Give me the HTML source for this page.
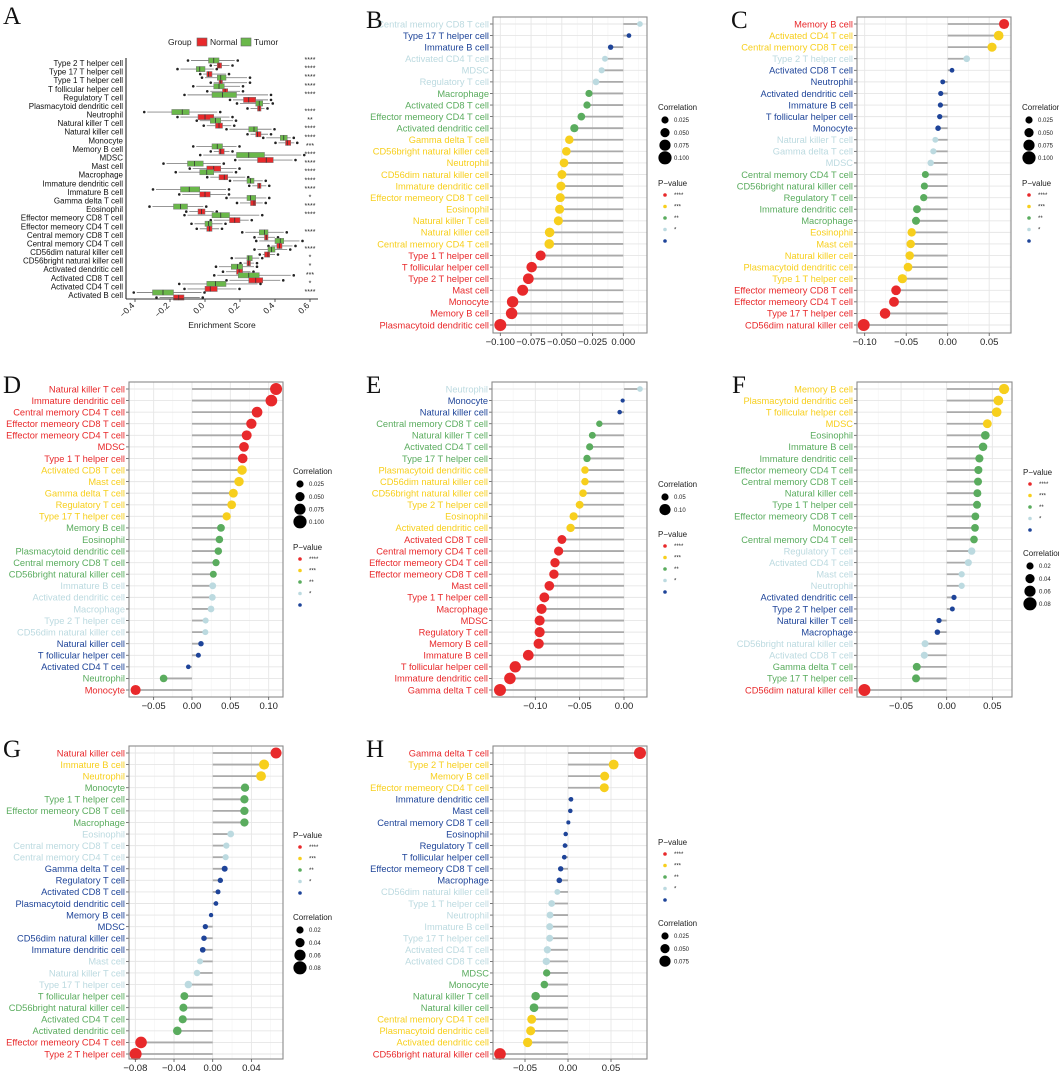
<!DOCTYPE html>
<html><head><meta charset="utf-8"><style>
body{margin:0;background:#fff}
svg{display:block;font-family:"Liberation Sans",Arial,sans-serif}
</style></head><body>
<svg id="fig" width="1059" height="1073" viewBox="0 0 1059 1073" xmlns="http://www.w3.org/2000/svg"></svg>
<script>
// ---------- Panel A data ----------
const aCells=["Type 2 T helper cell","Type 17 T helper cell","Type 1 T helper cell","T follicular helper cell","Regulatory T cell","Plasmacytoid dendritic cell","Neutrophil","Natural killer T cell","Natural killer cell","Monocyte","Memory B cell","MDSC","Mast cell","Macrophage","Immature dendritic cell","Immature  B cell","Gamma delta T cell","Eosinophil","Effector memeory CD8 T cell","Effector memeory CD4 T cell","Central memory CD8 T cell","Central memory CD4 T cell","CD56dim natural killer cell","CD56bright natural killer cell","Activated dendritic cell","Activated CD8 T cell","Activated CD4 T cell","Activated B cell"];
const aTumor=[[-.08,.02,.05,.08,.17],[-.14,-.05,-.03,0,.05],[0,.07,.09,.12,.24],[-.05,.05,.08,.11,.2],[-.1,.04,.1,.18,.36],[.2,.29,.31,.33,.37],[-.33,-.19,-.13,-.09,.07],[-.03,.03,.06,.09,.16],[.14,.25,.28,.3,.38],[.35,.43,.45,.47,.49],[-.05,.04,.07,.1,.18],[-.01,.18,.25,.34,.55],[-.22,-.1,-.06,-.01,.09],[-.15,-.03,.01,.05,.16],[.16,.24,.26,.28,.33],[-.28,-.14,-.09,-.03,.12],[.14,.24,.26,.29,.35],[-.3,-.18,-.14,-.1,-.01],[-.1,.04,.09,.14,.31],[-.06,0,.02,.04,.1],[.23,.31,.34,.36,.45],[.31,.4,.43,.45,.54],[.3,.36,.38,.4,.47],[.17,.24,.25,.27,.31],[.08,.15,.185,.215,.28],[.07,.19,.25,.31,.49],[-.13,.01,.06,.12,.3],[-.39,-.3,-.24,-.18,-.02]];
const aNormal=[[.05,.07,.08,.095,.14],[-.01,.01,.02,.04,.12],[.05,.08,.09,.1,.24],[.03,.1,.115,.13,.2],[.16,.22,.25,.29,.36],[.26,.3,.31,.32,.34],[-.14,-.04,0,.05,.14],[.01,.06,.08,.1,.15],[.26,.29,.3,.32,.36],[.42,.46,.47,.49,.51],[.05,.08,.09,.11,.14],[.19,.3,.35,.39,.5],[-.07,.01,.05,.09,.18],[.03,.08,.11,.13,.23],[.27,.3,.31,.32,.35],[-.13,-.03,0,.03,.12],[.2,.26,.28,.29,.33],[-.09,-.04,-.02,0,.05],[.05,.14,.17,.2,.25],[-.03,.01,.025,.04,.08],[.3,.34,.35,.36,.4],[.38,.41,.425,.44,.5],[.33,.34,.36,.37,.4],[.22,.24,.25,.26,.28],[.12,.18,.195,.215,.26],[.14,.25,.29,.33,.43],[-.1,0,.03,.07,.18],[-.26,-.18,-.15,-.12,-.03]];
const aStars=["****","****","****","****","****","","****","**","****","****","***","****","****","****","****","****","*","****","****","","****","","****","*","*","***","*","****"];
const aTicks=[-0.4,-0.2,0.0,0.2,0.4,0.6];
const aTickLabels=["−0.4","−0.2","0.0","0.2","0.4","0.6"];

// ---------- Lollipop data ----------
const bNames=["Central memory CD8 T cell","Type 17 T helper cell","Immature  B cell","Activated CD4 T cell","MDSC","Regulatory T cell","Macrophage","Activated CD8 T cell","Effector memeory CD4 T cell","Activated dendritic cell","Gamma delta T cell","CD56bright natural killer cell","Neutrophil","CD56dim natural killer cell","Immature dendritic cell","Effector memeory CD8 T cell","Eosinophil","Natural killer T cell","Natural killer cell","Central memory CD4 T cell","Type 1 T helper cell","T follicular helper cell","Type 2 T helper cell","Mast cell","Monocyte","Memory B cell","Plasmacytoid dendritic cell"];
const bVals=[0.0135,0.0046,-0.0103,-0.0149,-0.0176,-0.0222,-0.0279,-0.0295,-0.0341,-0.0398,-0.0439,-0.0463,-0.0482,-0.0499,-0.0507,-0.0512,-0.0518,-0.0528,-0.0599,-0.0602,-0.0672,-0.0745,-0.0772,-0.0818,-0.0900,-0.0908,-0.1];
const bSig=[1,0,0,1,1,1,2,2,2,2,3,3,3,3,3,3,3,3,3,3,4,4,4,4,4,4,4];
const bTicks=[-0.1,-0.075,-0.05,-0.025,0];
const bTickLabels=["−0.100","−0.075","−0.050","−0.025","0.000"];
const bCorrLabels=["0.025","0.050","0.075","0.100"];

const cNames=["Memory B cell","Activated CD4 T cell","Central memory CD8 T cell","Type 2 T helper cell","Activated CD8 T cell","Neutrophil","Activated dendritic cell","Immature  B cell","T follicular helper cell","Monocyte","Natural killer T cell","Gamma delta T cell","MDSC","Central memory CD4 T cell","CD56bright natural killer cell","Regulatory T cell","Immature dendritic cell","Macrophage","Eosinophil","Mast cell","Natural killer cell","Plasmacytoid dendritic cell","Type 1 T helper cell","Effector memeory CD8 T cell","Effector memeory CD4 T cell","Type 17 T helper cell","CD56dim natural killer cell"];
const cVals=[0.0679,0.0614,0.0534,0.0229,0.0052,-0.006,-0.0084,-0.0088,-0.0096,-0.0116,-0.0149,-0.0173,-0.0205,-0.0269,-0.0281,-0.0289,-0.037,-0.0382,-0.0434,-0.0446,-0.0458,-0.0478,-0.0546,-0.0622,-0.0647,-0.0755,-0.1012];
const cSig=[4,3,3,1,0,0,0,0,0,0,1,1,1,2,2,2,2,2,3,3,3,3,3,4,4,4,4];
const cTicks=[-0.1,-0.05,0,0.05];
const cTickLabels=["−0.10","−0.05","0.00","0.05"];
const cCorrLabels=["0.025","0.050","0.075","0.100"];

const dNames=["Natural killer T cell","Immature dendritic cell","Central memory CD4 T cell","Effector memeory CD8 T cell","Effector memeory CD4 T cell","MDSC","Type 1 T helper cell","Activated CD8 T cell","Mast cell","Gamma delta T cell","Regulatory T cell","Type 17 T helper cell","Memory B cell","Eosinophil","Plasmacytoid dendritic cell","Central memory CD8 T cell","CD56bright natural killer cell","Immature  B cell","Activated dendritic cell","Macrophage","Type 2 T helper cell","CD56dim natural killer cell","Natural killer cell","T follicular helper cell","Activated CD4 T cell","Neutrophil","Monocyte"];
const dVals=[0.1096,0.1035,0.0848,0.0774,0.0713,0.0678,0.0661,0.0652,0.0613,0.0539,0.0517,0.0452,0.0378,0.0357,0.0343,0.0313,0.0278,0.027,0.0265,0.0248,0.0178,0.0174,0.0117,0.0083,-0.0048,-0.037,-0.0735];
const dSig=[4,4,4,4,4,4,4,3,3,3,3,3,2,2,2,2,2,1,1,1,1,1,0,0,0,2,4];
const dTicks=[-0.05,0,0.05,0.1];
const dTickLabels=["−0.05","0.00","0.05","0.10"];
const dCorrLabels=["0.025","0.050","0.075","0.100"];

const eNames=["Neutrophil","Monocyte","Natural killer cell","Central memory CD8 T cell","Natural killer T cell","Activated CD4 T cell","Type 17 T helper cell","Plasmacytoid dendritic cell","CD56dim natural killer cell","CD56bright natural killer cell","Type 2 T helper cell","Eosinophil","Activated dendritic cell","Activated CD8 T cell","Central memory CD4 T cell","Effector memeory CD4 T cell","Effector memeory CD8 T cell","Mast cell","Type 1 T helper cell","Macrophage","MDSC","Regulatory T cell","Memory B cell","Immature  B cell","T follicular helper cell","Immature dendritic cell","Gamma delta T cell"];
const eVals=[0.018,-0.0015,-0.0049,-0.0278,-0.0357,-0.0387,-0.0417,-0.044,-0.044,-0.0462,-0.05,-0.0568,-0.0602,-0.07,-0.0737,-0.0778,-0.079,-0.0842,-0.0898,-0.0929,-0.0951,-0.0951,-0.0962,-0.1079,-0.1226,-0.1286,-0.1398];
const eSig=[1,0,0,2,2,2,2,3,3,3,3,3,3,4,4,4,4,4,4,4,4,4,4,4,4,4,4];
const eTicks=[-0.1,-0.05,0];
const eTickLabels=["−0.10","−0.05","0.00"];
const eCorrLabels=["0.05","0.10"];

const fNames=["Memory B cell","Plasmacytoid dendritic cell","T follicular helper cell","MDSC","Eosinophil","Immature  B cell","Immature dendritic cell","Effector memeory CD4 T cell","Central memory CD8 T cell","Natural killer cell","Type 1 T helper cell","Effector memeory CD8 T cell","Monocyte","Central memory CD4 T cell","Regulatory T cell","Activated CD4 T cell","Mast cell","Neutrophil","Activated dendritic cell","Type 2 T helper cell","Natural killer T cell","Macrophage","CD56bright natural killer cell","Activated CD8 T cell","Gamma delta T cell","Type 17 T helper cell","CD56dim natural killer cell"];
const fVals=[0.0628,0.0566,0.0547,0.0445,0.0423,0.0398,0.0358,0.0347,0.0343,0.0336,0.0332,0.0314,0.031,0.0299,0.0274,0.0237,0.0164,0.0164,0.008,0.0062,-0.0084,-0.0102,-0.0237,-0.0245,-0.0328,-0.0336,-0.0901];
const fSig=[3,3,3,3,2,2,2,2,2,2,2,2,2,2,1,1,1,1,0,0,0,0,1,1,2,2,4];
const fTicks=[-0.05,0,0.05];
const fTickLabels=["−0.05","0.00","0.05"];
const fCorrLabels=["0.02","0.04","0.06","0.08"];

const gNames=["Natural killer cell","Immature  B cell","Neutrophil","Monocyte","Type 1 T helper cell","Effector memeory CD8 T cell","Macrophage","Eosinophil","Central memory CD8 T cell","Central memory CD4 T cell","Gamma delta T cell","Regulatory T cell","Activated CD8 T cell","Plasmacytoid dendritic cell","Memory B cell","MDSC","CD56dim natural killer cell","Immature dendritic cell","Mast cell","Natural killer T cell","Type 17 T helper cell","T follicular helper cell","CD56bright natural killer cell","Activated CD4 T cell","Activated dendritic cell","Effector memeory CD4 T cell","Type 2 T helper cell"];
const gVals=[0.0655,0.0531,0.05,0.0334,0.0328,0.0328,0.0328,0.0186,0.0141,0.0134,0.0124,0.0079,0.0055,0.0034,-0.0017,-0.0076,-0.009,-0.0103,-0.0131,-0.0162,-0.0252,-0.0293,-0.0303,-0.031,-0.0366,-0.0741,-0.0797];
const gSig=[4,3,3,2,2,2,2,1,1,1,0,0,0,0,0,0,0,0,1,1,1,2,2,2,2,4,4];
const gTicks=[-0.08,-0.04,0,0.04];
const gTickLabels=["−0.08","−0.04","0.00","0.04"];
const gCorrLabels=["0.02","0.04","0.06","0.08"];

const hNames=["Gamma delta T cell","Type 2 T helper cell","Memory B cell","Effector memeory CD4 T cell","Immature dendritic cell","Mast cell","Central memory CD8 T cell","Eosinophil","Regulatory T cell","T follicular helper cell","Effector memeory CD8 T cell","Macrophage","CD56dim natural killer cell","Type 1 T helper cell","Neutrophil","Immature  B cell","Type 17 T helper cell","Activated CD4 T cell","Activated CD8 T cell","MDSC","Monocyte","Natural killer T cell","Natural killer cell","Central memory CD4 T cell","Plasmacytoid dendritic cell","Activated dendritic cell","CD56bright natural killer cell"];
const hVals=[0.0837,0.0531,0.0426,0.0422,0.0035,0.0027,0.0004,-0.0027,-0.0035,-0.0043,-0.0085,-0.0101,-0.0124,-0.019,-0.0209,-0.0213,-0.0213,-0.024,-0.0252,-0.0248,-0.0275,-0.0376,-0.0395,-0.0422,-0.0434,-0.0469,-0.0791];
const hSig=[4,3,3,3,0,0,0,0,0,0,0,0,1,1,1,1,1,1,1,2,2,2,2,3,3,3,4];
const hTicks=[-0.05,0,0.05];
const hTickLabels=["−0.05","0.00","0.05"];
const hCorrLabels=["0.025","0.050","0.075"];

const pLabels=["****","***","**","*",""];
</script>
<script>
const NS="http://www.w3.org/2000/svg";
const svg=document.getElementById('fig');
const COLORS=["#1e4499","#bcdae0","#5aac5e","#f7cf1d","#e8292b"];
function mk(tag,attrs,parent){const e=document.createElementNS(NS,tag);for(const k in attrs)e.setAttribute(k,attrs[k]);(parent||svg).appendChild(e);return e;}
function txt(s,attrs,parent){const e=mk('text',attrs,parent);e.textContent=s;return e;}

function panelLetter(L,x,y){
  const t=txt(L,{x:x,y:y,'font-family':'"Liberation Serif",serif','font-size':25,fill:'#111'});
  
  
}

// ---------- Panel A ----------
(function(){
  const g=mk('g',{});
  
  
  const xs=v=>205+175*v;
  const y0=63, dy=(295-63)/(aCells.length-1);
  const ys=i=>y0+i*dy;
  // legend
  const lg=mk('g',{},g);
  
  
  txt('Group',{x:168,y:45,'font-size':8.5,fill:'#222'},lg);
  mk('rect',{x:197,y:38,width:10,height:8,fill:'#e8292b',stroke:'#666','stroke-width':0.6},lg);
  txt('Normal',{x:210,y:45,'font-size':8.5,fill:'#222'},lg);
  mk('rect',{x:241,y:38,width:10,height:8,fill:'#6ab84a',stroke:'#666','stroke-width':0.6},lg);
  txt('Tumor',{x:254,y:45,'font-size':8.5,fill:'#222'},lg);
  function box(d,yc,col,name){
    const b=mk('g',{},g);
    
    
    mk('line',{x1:xs(d[0]),x2:xs(d[4]),y1:yc,y2:yc,stroke:'#888','stroke-width':0.9},b);
    mk('rect',{x:xs(d[1]),y:yc-2.6,width:xs(d[3])-xs(d[1]),height:5.2,fill:col,stroke:'#777','stroke-width':0.5},b);
    mk('line',{x1:xs(d[2]),x2:xs(d[2]),y1:yc-2.6,y2:yc+2.6,stroke:'#333','stroke-width':0.8},b);
    mk('circle',{cx:xs(d[0])-3,cy:yc,r:1.3,fill:'#222'},b);
    mk('circle',{cx:xs(d[4])+3,cy:yc,r:1.3,fill:'#222'},b);
  }
  aCells.forEach((c,i)=>{
    const y=ys(i);
    const t=txt(c,{x:123,y:y+3,'font-size':8,'text-anchor':'end',fill:'#111'},g);
    
    
    box(aTumor[i],y-2.5,'#6ab84a','tumor-box');
    box(aNormal[i],y+2.5,'#e8292b','normal-box');
    if(aStars[i]){
      const s=txt(aStars[i],{x:310,y:y-1,'font-size':7,'text-anchor':'middle',fill:'#222'},g);
      
      
    }
  });
  mk('line',{x1:126,x2:126,y1:58,y2:299,stroke:'#888','stroke-width':2},g);
  mk('line',{x1:126,x2:318,y1:299,y2:299,stroke:'#333','stroke-width':1},g);
  aTicks.forEach((v,i)=>{
    mk('line',{x1:xs(v),x2:xs(v),y1:299,y2:302,stroke:'#333','stroke-width':0.8},g);
    const t=txt(aTickLabels[i],{x:xs(v),y:306,'font-size':8.5,'text-anchor':'end',fill:'#222',transform:`rotate(-45 ${xs(v)} 306)`},g);
    
    
  });
  const at=txt('Enrichment Score',{x:222,y:328,'font-size':8.5,'text-anchor':'middle',fill:'#222'},g);
  
  
})();
panelLetter('A',3,24);

// ---------- Lollipop ----------
function lollipop(cfg){
  const {id,names,vals,sig,ticks,tickLabels,corrLabels,box,zeroX,ppu,rowTop,rowBot,corrPos,pPos,corrFirst}=cfg;
  const g=mk('g',{});
  
  
  const xs=v=>zeroX+v*ppu;
  const n=names.length, dy=(rowBot-rowTop)/(n-1);
  const ys=i=>rowTop+i*dy;
  const maxAbs=Math.max(...vals.map(Math.abs));
  const rad=v=>Math.sqrt(4+ (36-4)*Math.abs(v)/maxAbs);
  mk('rect',{x:box[0],y:box[1],width:box[2]-box[0],height:box[3]-box[1],fill:'#fff'},g);
  // minor vertical grid
  const step=ticks[1]-ticks[0];
  for(let k=-1;k<ticks.length;k++){
    const v=ticks[0]+(k+0.5)*step, x=xs(v);
    if(x>box[0]&&x<box[2]) mk('line',{x1:x,x2:x,y1:box[1],y2:box[3],stroke:'#f3f3f3','stroke-width':0.6},g);
  }
  ticks.forEach(v=>{mk('line',{x1:xs(v),x2:xs(v),y1:box[1],y2:box[3],stroke:'#e6e6e6','stroke-width':0.9},g);});
  names.forEach((nm,i)=>{mk('line',{x1:box[0],x2:box[2],y1:ys(i),y2:ys(i),stroke:'#e6e6e6','stroke-width':0.9},g);});
  names.forEach((nm,i)=>{
    const y=ys(i), v=vals[i], col=COLORS[sig[i]];
    const seg=mk('line',{x1:xs(0),x2:xs(v),y1:y,y2:y,stroke:'#aaaaaa','stroke-width':1.8},g);
    
    
    const c=mk('circle',{cx:xs(v),cy:y,r:rad(v),fill:col},g);
    
    
    const t=txt(nm,{x:box[0]-4,y:y+3.3,'font-size':9.3,'text-anchor':'end',fill:col},g);
    
    
    mk('line',{x1:box[0]-3,x2:box[0],y1:y,y2:y,stroke:'#555','stroke-width':0.8},g);
  });
  mk('rect',{x:box[0],y:box[1],width:box[2]-box[0],height:box[3]-box[1],fill:'none',stroke:'#8a8a8a','stroke-width':1.1},g);
  ticks.forEach((v,i)=>{
    mk('line',{x1:xs(v),x2:xs(v),y1:box[3],y2:box[3]+3,stroke:'#555','stroke-width':0.8},g);
    const t=txt(tickLabels[i],{x:xs(v),y:box[3]+12,'font-size':9.5,'text-anchor':'middle',fill:'#222'},g);
    
    
  });
  // correlation legend
  const cl=mk('g',{},g);
  
  
  txt('Correlation',{x:corrPos[0],y:corrPos[1]+3,'font-size':8,fill:'#222'},cl);
  corrLabels.forEach((lab,k)=>{
    const yy=corrPos[1]+13+k*12.6, r=3.6+k*(corrLabels.length>2?1.0:2.0);
    mk('circle',{cx:corrPos[0]+7,cy:yy,r:r,fill:'#000'},cl);
    txt(lab,{x:corrPos[0]+16,y:yy+2.2,'font-size':6,fill:'#222'},cl);
  });
  const pl=mk('g',{},g);
  
  
  txt('P−value',{x:pPos[0],y:pPos[1]+3,'font-size':8,fill:'#222'},pl);
  [4,3,2,1,0].forEach((s,k)=>{
    const yy=pPos[1]+12+k*11.5;
    mk('circle',{cx:pPos[0]+7,cy:yy,r:1.8,fill:COLORS[s]},pl);
    txt(pLabels[k],{x:pPos[0]+16,y:yy+2,'font-size':6,fill:'#222'},pl);
  });
}
lollipop({id:'b',names:bNames,vals:bVals,sig:bSig,ticks:bTicks,tickLabels:bTickLabels,corrLabels:bCorrLabels,box:[493,17,647,333],zeroX:623.3,ppu:1230,rowTop:24,rowBot:325,corrPos:[658,107],pPos:[658,183]});
lollipop({id:'c',names:cNames,vals:cVals,sig:cSig,ticks:cTicks,tickLabels:cTickLabels,corrLabels:cCorrLabels,box:[857,17,1011,333],zeroX:947.7,ppu:830,rowTop:24,rowBot:325,corrPos:[1022,107],pPos:[1022,183]});
lollipop({id:'d',names:dNames,vals:dVals,sig:dSig,ticks:dTicks,tickLabels:dTickLabels,corrLabels:dCorrLabels,box:[129,382,283,697],zeroX:192,ppu:767,rowTop:389,rowBot:690,corrPos:[293,471],pPos:[293,547]});
lollipop({id:'e',names:eNames,vals:eVals,sig:eSig,ticks:eTicks,tickLabels:eTickLabels,corrLabels:eCorrLabels,box:[492,382,647,697],zeroX:624,ppu:887,rowTop:389,rowBot:690,corrPos:[658,484],pPos:[658,534]});
lollipop({id:'f',names:fNames,vals:fVals,sig:fSig,ticks:fTicks,tickLabels:fTickLabels,corrLabels:fCorrLabels,box:[857,382,1012,697],zeroX:946.7,ppu:913,rowTop:389,rowBot:690,corrPos:[1023,553],pPos:[1023,472]});
lollipop({id:'g',names:gNames,vals:gVals,sig:gSig,ticks:gTicks,tickLabels:gTickLabels,corrLabels:gCorrLabels,box:[129,746,283,1059],zeroX:212.7,ppu:967,rowTop:753,rowBot:1054,corrPos:[293,917],pPos:[293,835]});
lollipop({id:'h',names:hNames,vals:hVals,sig:hSig,ticks:hTicks,tickLabels:hTickLabels,corrLabels:hCorrLabels,box:[493,746,647,1059],zeroX:568,ppu:860,rowTop:753,rowBot:1054,corrPos:[658,923],pPos:[658,842]});
panelLetter('B',366,28);
panelLetter('C',731,28);
panelLetter('D',3,393);
panelLetter('E',366,393);
panelLetter('F',732,393);
panelLetter('G',3,757);
panelLetter('H',366,757);
</script>
</body></html>
